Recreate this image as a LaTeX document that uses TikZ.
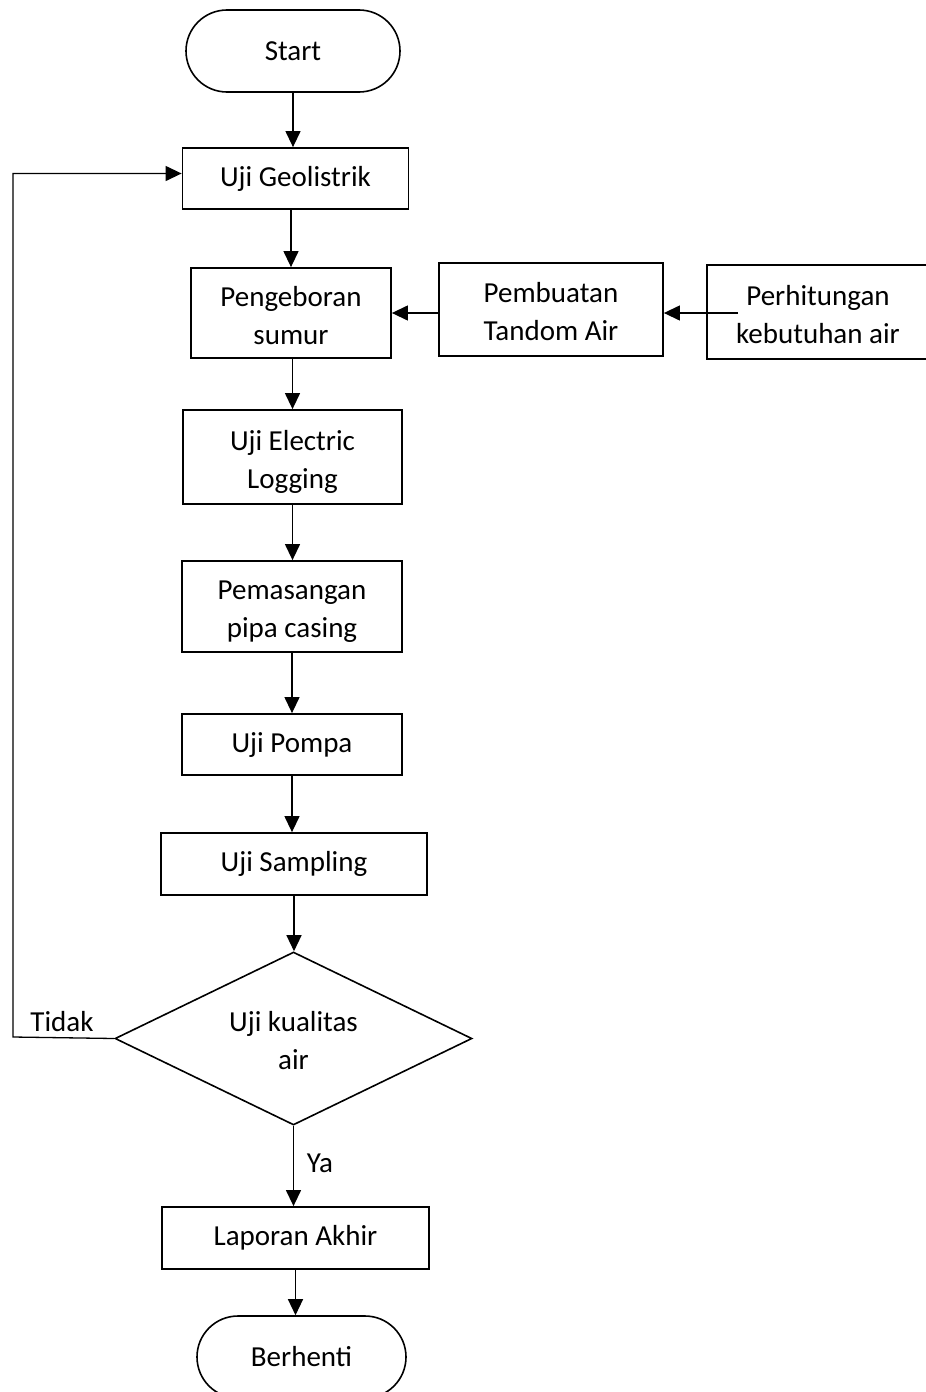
\documentclass[tikz,border=0pt]{standalone}
\usepackage{fontspec}
\setmainfont{Carlito}
\usetikzlibrary{shapes.misc,shapes.geometric,arrows.meta}
\begin{document}
\begin{tikzpicture}[x=1pt,y=-1pt,
  txt/.style={font=\fontsize{29}{38}\selectfont},
  box/.style={txt,draw,line width=1.8pt,rectangle,inner sep=0pt,align=center},
  two/.style={text height=69pt,text depth=7pt},
  term/.style={txt,draw,line width=1.6pt,rounded rectangle,inner sep=0pt,align=center},
  dec/.style={txt,draw,line width=1.6pt,diamond,shape aspect=2,inner sep=0pt,align=center},
  conn/.style={line width=1.3pt,-{Triangle[length=16pt,width=15pt]}},
  plain/.style={line width=1.3pt}
]
\useasboundingbox (0,0) rectangle (926,1392);

\node[term,minimum width=214pt,minimum height=82pt] (start) at (293,51) {Start};
\node[box,minimum width=226pt,minimum height=61pt] (geo) at (295.5,178.5) {Uji Geolistrik};
\node[box,two,minimum width=200pt,minimum height=90pt] (peng) at (291,313) {Pengeboran\\sumur};
\node[box,two,minimum width=224pt,minimum height=93pt] (pemb) at (551,309.5) {Pembuatan\\Tandom Air};
\node[box,two,minimum width=222pt,minimum height=94pt] (perh) at (818,312) {Perhitungan\\kebutuhan air};
\node[box,two,minimum width=219pt,minimum height=94pt] (elog) at (292.5,457) {Uji Electric\\Logging};
\node[box,two,minimum width=220pt,minimum height=91pt] (pipa) at (292,606.5) {Pemasangan\\pipa casing};
\node[box,minimum width=220pt,minimum height=61pt] (pompa) at (292,744.5) {Uji Pompa};
\node[box,minimum width=266pt,minimum height=62pt] (samp) at (294,864) {Uji Sampling};
\node[dec,two,minimum width=357pt,minimum height=173pt] (kual) at (293.5,1038.5) {Uji kualitas\\air};
\node[box,minimum width=267pt,minimum height=62pt] (lap) at (295.5,1238) {Laporan Akhir};
\node[term,minimum width=209pt,minimum height=82pt] (stop) at (301.5,1357) {Berhenti};

\node[txt] (tidak) at (62,1022) {Tidak};
\node[txt] (ya) at (320,1163) {Ya};

\coordinate (ps) at (738,313);
\coordinate (fb) at (13,1037);

\draw[conn] (start.south) -- (start.south |- geo.north);
\draw[conn] (peng.north |- geo.south) -- (peng.north);
\draw[conn] (elog.north |- peng.south) -- (elog.north);
\draw[conn] (elog.south) -- (elog.south |- pipa.north);
\draw[conn] (pipa.south) -- (pipa.south |- pompa.north);
\draw[conn] (pompa.south) -- (pompa.south |- samp.north);
\draw[conn] (samp.south) -- (samp.south |- kual.north);
\draw[conn] (kual.south) -- (kual.south |- lap.north);
\draw[conn] (lap.south) -- (lap.south |- stop.north);
\draw[conn] (pemb.west |- peng.east) -- (peng.east);
\draw[conn] (ps) -- (pemb.east |- ps);
\draw[conn] (kual.west) -- (fb) |- ([yshift=5pt]geo.west);
\end{tikzpicture}
\end{document}
